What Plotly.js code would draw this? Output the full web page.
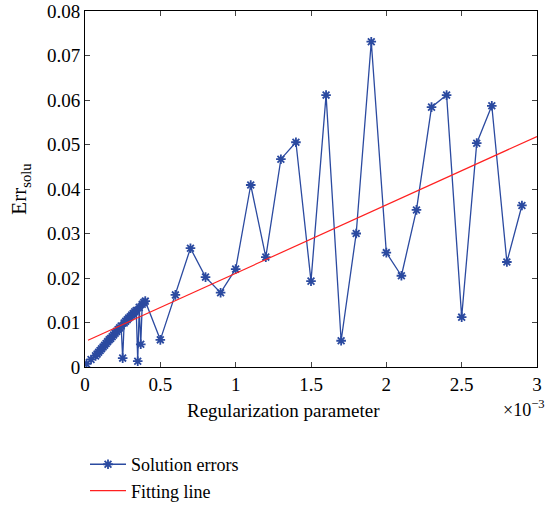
<!DOCTYPE html>
<html>
<head>
<meta charset="utf-8">
<script src="https://cdn.plot.ly/plotly-3.0.1.min.js"></script>
<style>html,body{margin:0;padding:0;background:#fff;}#chart{width:547px;height:506px;}</style>
</head>
<body>
<div id="chart"></div>
<script>
// Regularization parameter values (in units of 1e-3, shown with the x10^-3 multiplier)
var paramX = [0.01, 0.04, 0.07, 0.08, 0.09, 0.10, 0.11, 0.12, 0.13, 0.14, 0.15, 0.16, 0.17, 0.18, 0.19, 0.20,
  0.21, 0.22, 0.23, 0.24, 0.25, 0.26, 0.27, 0.28, 0.29, 0.30, 0.31, 0.32, 0.33, 0.34, 0.35, 0.36, 0.37, 0.38, 0.39, 0.40,
  0.5, 0.6, 0.7, 0.8, 0.9, 1.0, 1.1, 1.2, 1.3, 1.4, 1.5, 1.6, 1.7, 1.8, 1.9, 2.0, 2.1, 2.2, 2.3, 2.4, 2.5, 2.6, 2.7, 2.8, 2.9];
// Solution errors
var solErr = [0.0007, 0.0017, 0.0025, 0.0029, 0.0033, 0.0037, 0.0041, 0.0045, 0.0049, 0.0053, 0.0057, 0.0061, 0.0064, 0.0068, 0.0072, 0.0076,
  0.0080, 0.0084, 0.0088, 0.0092, 0.0020, 0.0099, 0.0103, 0.0106, 0.0110, 0.0113, 0.0117, 0.0120, 0.0124, 0.0127, 0.0013, 0.0134, 0.0051, 0.0141, 0.0145, 0.0148,
  0.0061, 0.0162, 0.0267, 0.0202, 0.0167, 0.0220, 0.0409, 0.0247, 0.0467, 0.0505, 0.0193, 0.0611, 0.0059, 0.0300, 0.0731, 0.0257, 0.0205, 0.0353, 0.0584, 0.0611, 0.0112, 0.0503, 0.0587, 0.0236, 0.0363];
// Fitting line end points
var fitX = [0.02, 3.0];
var fitY = [0.0060, 0.0518];
// Tick labels
var xTickVals = [0, 0.5, 1, 1.5, 2, 2.5, 3];
var xTickText = ['0', '0.5', '1', '1.5', '2', '2.5', '3'];
var yTickVals = [0, 0.01, 0.02, 0.03, 0.04, 0.05, 0.06, 0.07, 0.08];
var yTickText = ['0', '0.01', '0.02', '0.03', '0.04', '0.05', '0.06', '0.07', '0.08'];

var FONT = 'Liberation Serif, Times New Roman, serif';
var traces = [
  {x: paramX, y: solErr, type: 'scatter', mode: 'lines+markers', name: 'Solution errors',
   line: {color: '#2b4aa0', width: 1.3},
   marker: {symbol: 'asterisk-open', size: 8, color: '#2b4aa0', line: {color: '#2b4aa0', width: 1.8}}},
  {x: fitX, y: fitY, type: 'scatter', mode: 'lines', name: 'Fitting line',
   line: {color: '#ff2020', width: 1.2}}
];
var layout = {
  width: 547, height: 506,
  margin: {l: 85, r: 10, t: 11, b: 139, autoexpand: false},
  paper_bgcolor: '#fff', plot_bgcolor: '#fff',
  font: {family: FONT, size: 19, color: '#000'},
  showlegend: true,
  legend: {x: 0.0, y: -0.222, xanchor: 'left', yanchor: 'top', bgcolor: 'rgba(0,0,0,0)',
    font: {family: FONT, size: 18}, tracegroupgap: 0, itemwidth: 36},
  xaxis: {range: [0, 3], tickvals: xTickVals, ticktext: xTickText, ticks: 'inside', ticklen: 5,
    showline: true, mirror: 'ticks', linecolor: '#000', linewidth: 1, showgrid: false, zeroline: false,
    tickfont: {family: FONT, size: 19}},
  yaxis: {range: [0, 0.08], tickvals: yTickVals, ticktext: yTickText, ticks: 'inside', ticklen: 5,
    showline: true, mirror: 'ticks', linecolor: '#000', linewidth: 1, showgrid: false, zeroline: false,
    tickfont: {family: FONT, size: 19},
    title: {text: 'Err<sub>solu</sub>', font: {family: FONT, size: 21}, standoff: 14}},
  annotations: [
    {text: 'Regularization parameter', xref: 'paper', yref: 'paper', x: 0.44, y: -0.122,
     xanchor: 'center', yanchor: 'middle', showarrow: false, font: {family: FONT, size: 19}},
    {text: '×10<sup>−3</sup>', xref: 'paper', yref: 'paper', x: 1.022, y: -0.117,
     xanchor: 'right', yanchor: 'middle', showarrow: false, font: {family: FONT, size: 18}}
  ]
};
Plotly.newPlot('chart', traces, layout, {displayModeBar: false, staticPlot: true});
</script>
</body>
</html>
